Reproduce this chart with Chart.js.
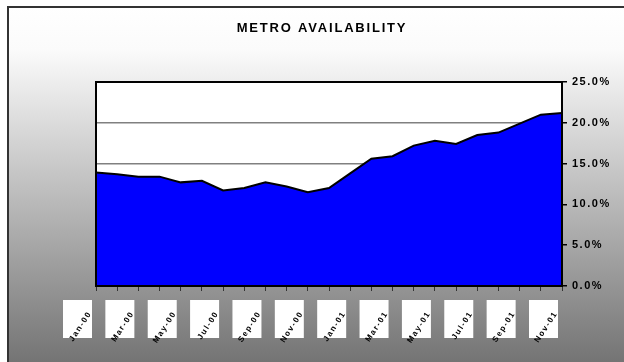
<!DOCTYPE html>
<html>
<head>
<meta charset="utf-8">
<script src="https://cdn.jsdelivr.net/npm/chart.js@4.4.0/dist/chart.umd.min.js"></script>
<style>
  html, body { margin: 0; padding: 0; background: #fff; }
  #wrap { width: 624px; height: 362px; }
</style>
</head>
<body>
<div id="wrap"><canvas id="metro" width="624" height="362"></canvas></div>
<script>
// data ///////
var title = 'METRO AVAILABILITY';
var periods = ['Jan-00', 'Feb-00', 'Mar-00', 'Apr-00', 'May-00', 'Jun-00', 'Jul-00', 'Aug-00',
  'Sep-00', 'Oct-00', 'Nov-00', 'Dec-00', 'Jan-01', 'Feb-01', 'Mar-01', 'Apr-01',
  'May-01', 'Jun-01', 'Jul-01', 'Aug-01', 'Sep-01', 'Oct-01', 'Nov-01'];
var availability = [13.9, 13.7, 13.4, 13.4, 12.7, 12.9, 11.7, 12.0, 12.7, 12.2, 11.5, 12.0,
  13.8, 15.6, 15.9, 17.2, 17.8, 17.4, 18.5, 18.8, 19.9, 21.0, 21.2];
var yTicks = [0, 5, 10, 15, 20, 25];

// background, frame, title, label boxes
var decor = {
  id: 'decor',
  beforeUpdate: function(chart) { chart.ctx.letterSpacing = '1.5px'; },
  beforeDraw: function(chart) {
    var ctx = chart.ctx, a = chart.chartArea;
    ctx.save();
    ctx.fillStyle = '#fff';
    ctx.fillRect(0, 0, chart.width, chart.height);
    var g = ctx.createLinearGradient(0, 7, 0, chart.height);
    g.addColorStop(0, '#ffffff');
    g.addColorStop(0.12, '#fbfbfb');
    g.addColorStop(1, '#747474');
    ctx.fillStyle = g;
    ctx.fillRect(7, 7, chart.width - 7, chart.height - 7);
    ctx.strokeStyle = '#333';
    ctx.lineWidth = 2;
    ctx.beginPath();
    ctx.moveTo(8, chart.height);
    ctx.lineTo(8, 7);
    ctx.lineTo(chart.width, 7);
    ctx.stroke();

    // plot area
    ctx.fillStyle = '#fff';
    ctx.fillRect(a.left, a.top, a.right - a.left, a.bottom - a.top);

    ctx.fillStyle = '#000';
    ctx.font = 'bold 13px Arial, "Liberation Sans", sans-serif';
    ctx.letterSpacing = '1.8px';
    ctx.textAlign = 'center';
    ctx.textBaseline = 'middle';
    ctx.fillText(title, 322, 28);

    var xs = chart.scales.x;
    ctx.fillStyle = '#fff';
    for (var i = 0; i < periods.length; i += 2) {
      var px = xs.getPixelForTick(i);
      ctx.fillRect(px - 33, 300, 29, 38);
    }
    ctx.restore();
    ctx.letterSpacing = '1.5px';
  },
  afterDraw: function(chart) {
    var a = chart.chartArea, ctx = chart.ctx;
    ctx.save();
    ctx.strokeStyle = '#000';
    ctx.lineWidth = 2;
    ctx.strokeRect(a.left, a.top, a.right - a.left, a.bottom - a.top);
    ctx.restore();
  }
};

var ctx = document.getElementById('metro').getContext('2d');

var myAreaChart = new Chart(ctx, {
  type: 'line',
  data: {
    labels: periods,
    datasets: [{
      label: 'Availability',
      data: availability,
      fill: 'origin',
      backgroundColor: '#0000ff',
      borderColor: '#000',
      borderWidth: 2,
      pointRadius: 0,
      tension: 0
    }]
  },
  options: {
    responsive: false,
    animation: false,
    layout: { padding: { left: 96, top: 82, right: 0, bottom: 0 } },
    plugins: {
      legend: { display: false },
      tooltip: { enabled: false }
    },
    scales: {
      x: {
        offset: false,
        grid: { display: true, drawOnChartArea: false, tickLength: 5, tickColor: '#333', lineWidth: 1 },
        border: { color: '#000', width: 2 },
        ticks: {
          autoSkip: false,
          maxRotation: 57,
          minRotation: 57,
          padding: 9,
          color: '#000',
          font: { family: 'Arial', size: 8, weight: 'bold' },
          // trailing spaces pull the text back inside its white box
          callback: function(v, i) { return i % 2 === 0 ? periods[i] + '   ' : ''; }
        },
        afterFit: function(s) { s.height = 76; }
      },
      y: {
        position: 'right',
        min: 0,
        max: 25,
        afterBuildTicks: function(s) { s.ticks = yTicks.map(function(v) { return { value: v }; }); },
        grid: { color: '#808080', lineWidth: 1.5, tickLength: 5, tickColor: '#000' },
        border: { color: '#000', width: 2 },
        ticks: {
          padding: 5,
          color: '#000',
          font: { family: 'Arial', size: 11, weight: 'bold' },
          callback: function(v) { return v.toFixed(1) + '%'; }
        },
        afterFit: function(s) { s.width = 62; }
      }
    }
  },
  plugins: [decor]
});
</script>
</body>
</html>
